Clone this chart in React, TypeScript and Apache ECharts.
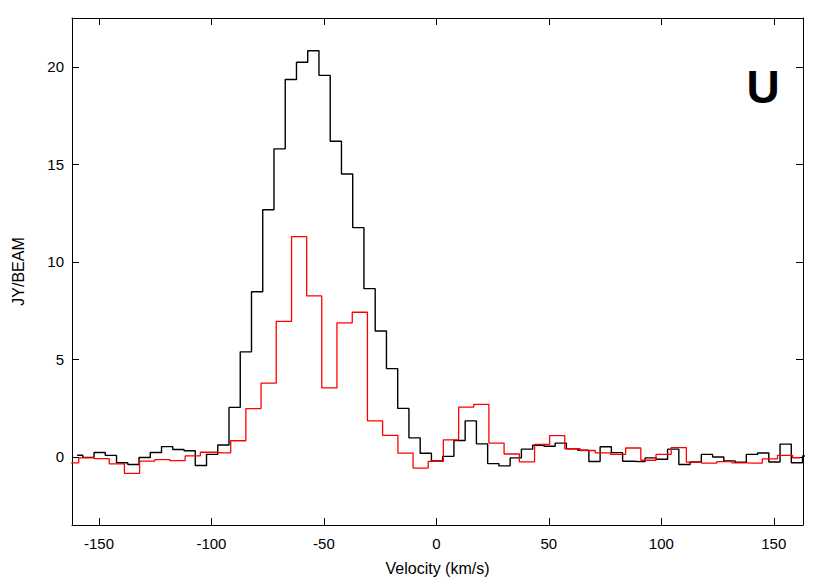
import React, { useEffect, useRef } from "react";
import * as echarts from "echarts";

// Black spectrum: 5 km/s channels (centre velocities, km/s) and flux (Jy/beam)
const blackVelocity = [
  -159.7, -154.7, -149.7, -144.7, -139.7, -134.7, -129.7, -124.7, -119.7, -114.7,
  -109.7, -104.7, -99.7, -94.7, -89.7, -84.7, -79.7, -74.7, -69.7, -64.7,
  -59.7, -54.7, -49.7, -44.7, -39.7, -34.7, -29.7, -24.7, -19.7, -14.7,
  -9.7, -4.7, 0.3, 5.3, 10.3, 15.3, 20.3, 25.3, 30.3, 35.3,
  40.3, 45.3, 50.3, 55.3, 60.3, 65.3, 70.3, 75.3, 80.3, 85.3,
  90.3, 95.3, 100.3, 105.3, 110.3, 115.3, 120.3, 125.3, 130.3, 135.3,
  140.3, 145.3, 150.3, 155.3, 160.3, 165.3,
];
const blackFlux = [
  0.08, -0.03, 0.22, 0.07, -0.31, -0.40, -0.04, 0.22, 0.52, 0.37,
  0.31, -0.45, 0.12, 0.60, 2.53, 5.38, 8.46, 12.67, 15.79, 19.35,
  20.23, 20.82, 19.56, 16.18, 14.50, 11.75, 8.62, 6.45, 4.52, 2.48,
  0.97, 0.18, -0.21, 0.02, 0.83, 1.84, 0.66, -0.35, -0.47, -0.06,
  0.39, 0.59, 0.54, 0.70, 0.41, 0.33, -0.24, 0.51, 0.21, -0.23,
  -0.25, -0.06, -0.13, 0.39, -0.40, -0.27, 0.12, -0.01, -0.21, -0.28,
  0.12, 0.19, -0.27, 0.65, -0.31, 0.04,
];

// Red spectrum: ~6.75 km/s channels
const redVelocity = [
  -162.4, -155.6, -148.8, -142.1, -135.3, -128.6, -121.8, -115.1, -108.3, -101.6,
  -94.8, -88.1, -81.3, -74.6, -67.8, -61.0, -54.3, -47.6, -40.8, -34.0,
  -27.3, -20.5, -13.7, -7.0, -0.3, 6.5, 13.3, 20.0, 26.7, 33.5,
  40.3, 47.0, 53.7, 60.5, 67.3, 74.0, 80.8, 87.5, 94.3, 101.0,
  107.8, 114.5, 121.3, 128.0, 134.8, 141.5, 148.3, 155.0, 161.8,
];
const redFlux = [
  -0.31, -0.06, -0.10, -0.37, -0.85, -0.22, -0.15, -0.20, 0.04, 0.23,
  0.20, 0.82, 2.47, 3.78, 6.94, 11.29, 8.25, 3.53, 6.87, 7.41,
  1.84, 1.10, 0.19, -0.58, -0.24, 0.87, 2.55, 2.69, 0.70, 0.14,
  -0.26, 0.63, 1.08, 0.41, 0.32, 0.20, 0.12, 0.45, -0.18, 0.12,
  0.47, -0.28, -0.33, -0.25, -0.31, -0.33, -0.11, 0.07, -0.05,
];

const xTicks = [-150, -100, -50, 0, 50, 100, 150];
const yTicks = [0, 5, 10, 15, 20];
const X_MIN = -162;
const X_MAX = 163;
const Y_MIN = -3.5;
const Y_MAX = 22.5;

const FONT = "'Liberation Sans', Arial, Helvetica, sans-serif";

export default function App() {
  const ref = useRef<HTMLDivElement>(null);

  useEffect(() => {
    if (!ref.current) return;
    const chart = echarts.init(ref.current, null, { renderer: "svg" });

    const lineAxis = { show: true, onZero: false, lineStyle: { color: "#000", width: 1 } };
    const tickStyle = (vals: number[]) => ({
      show: true,
      inside: true,
      length: 7,
      customValues: vals,
      lineStyle: { color: "#000", width: 1 },
    });

    chart.setOption({
      animation: false,
      backgroundColor: "#fff",
      grid: { left: 72, right: 27, top: 18, bottom: 48, containLabel: false },
      xAxis: [
        {
          type: "value",
          position: "bottom",
          min: X_MIN,
          max: X_MAX,
          axisLine: lineAxis,
          axisTick: tickStyle(xTicks),
          axisLabel: {
            customValues: xTicks,
            color: "#000",
            fontSize: 15,
            fontFamily: FONT,
            margin: 11,
          },
          splitLine: { show: false },
          name: "Velocity (km/s)",
          nameLocation: "middle",
          nameGap: 35,
          nameTextStyle: { color: "#000", fontSize: 16, fontFamily: FONT },
        },
        {
          type: "value",
          position: "top",
          min: X_MIN,
          max: X_MAX,
          axisLine: lineAxis,
          axisTick: tickStyle(xTicks),
          axisLabel: { show: false },
          splitLine: { show: false },
        },
      ],
      yAxis: [
        {
          type: "value",
          position: "left",
          min: Y_MIN,
          max: Y_MAX,
          axisLine: lineAxis,
          axisTick: tickStyle(yTicks),
          axisLabel: {
            customValues: yTicks,
            color: "#000",
            fontSize: 15,
            fontFamily: FONT,
            margin: 8,
          },
          splitLine: { show: false },
          name: "JY/BEAM",
          nameLocation: "middle",
          nameGap: 46,
          nameRotate: 90,
          nameTextStyle: { color: "#000", fontSize: 16, fontFamily: FONT },
        },
        {
          type: "value",
          position: "right",
          min: Y_MIN,
          max: Y_MAX,
          axisLine: lineAxis,
          axisTick: tickStyle(yTicks),
          axisLabel: { show: false },
          splitLine: { show: false },
        },
      ],
      graphic: [
        {
          type: "text",
          x: 763,
          y: 87,
          style: {
            text: "U",
            fontSize: 46,
            fontWeight: "bold",
            fontFamily: FONT,
            fill: "#000",
            textAlign: "center",
            textVerticalAlign: "middle",
          },
        },
      ],
      series: [
        {
          type: "line",
          step: "middle",
          xAxisIndex: 0,
          yAxisIndex: 0,
          showSymbol: false,
          clip: true,
          lineStyle: { color: "#000", width: 1.4 },
          itemStyle: { color: "#000" },
          data: blackVelocity.map((v, i) => [v, blackFlux[i]]),
        },
        {
          type: "line",
          step: "middle",
          xAxisIndex: 0,
          yAxisIndex: 0,
          showSymbol: false,
          clip: true,
          lineStyle: { color: "#ff0000", width: 1.3 },
          itemStyle: { color: "#ff0000" },
          data: redVelocity.map((v, i) => [v, redFlux[i]]),
        },
      ],
    });

    return () => chart.dispose();
  }, []);

  return (
    <div
      ref={ref}
      style={{ position: "fixed", left: 0, top: 0, width: 830, height: 581, background: "#fff" }}
    />
  );
}
